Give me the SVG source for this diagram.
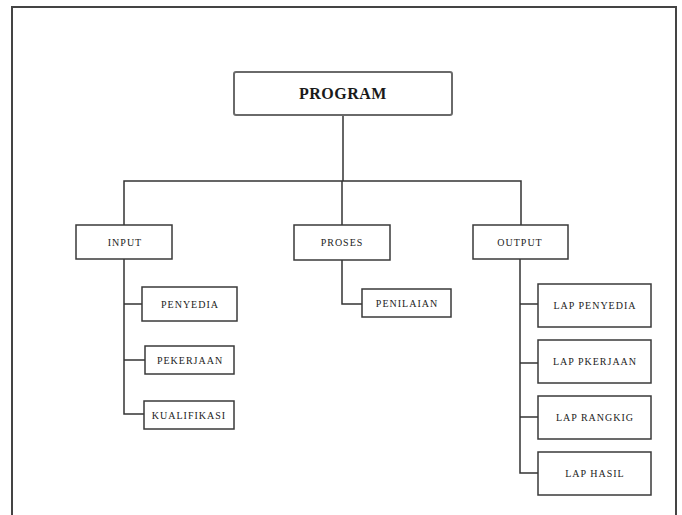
<svg xmlns="http://www.w3.org/2000/svg" width="682" height="515" viewBox="0 0 682 515">
  <style>
    .box { fill: #ffffff; stroke: #3a3a3a; stroke-width: 1.5; }
    .root { fill: #ffffff; stroke: #6a6a6a; stroke-width: 2; }
    .lbl { font-family: "Liberation Serif", "Times New Roman", serif; font-size: 10px; fill: #222; text-anchor: middle; letter-spacing: 1px; }
    .title { font-family: "Liberation Serif", "Times New Roman", serif; font-size: 16px; font-weight: bold; fill: #1a1a1a; text-anchor: middle; letter-spacing: 0.5px; }
    .wire { fill: none; stroke: #333; stroke-width: 1.5; }
  </style>

  <rect width="682" height="515" fill="#ffffff"/>
  <!-- page frame, open at the bottom -->
  <path d="M12 520 V7 H676 V520" fill="none" stroke="#444" stroke-width="2"/>

  <g id="connectors">
    <path class="wire" d="M343 115 V181"/>
    <path class="wire" d="M124 225 V181 H521 V225"/>
    <path class="wire" d="M342 181 V225"/>
    <!-- INPUT branches -->
    <path class="wire" d="M124 259 V414 H144"/>
    <path class="wire" d="M124 304 H142"/>
    <path class="wire" d="M124 360 H145"/>
    <!-- PROSES branch -->
    <path class="wire" d="M342 260 V304 H362"/>
    <!-- OUTPUT branches -->
    <path class="wire" d="M520 259 V473 H538"/>
    <path class="wire" d="M520 304 H538"/>
    <path class="wire" d="M520 363 H538"/>
    <path class="wire" d="M520 417 H538"/>
  </g>

  <g id="program">
    <rect class="root" x="234" y="72" width="218" height="43" rx="2"/>
    <text class="title" x="343" y="99">PROGRAM</text>
  </g>

  <g id="input">
    <rect class="box" x="76" y="225" width="96" height="34"/>
    <text class="lbl" x="125" y="246">INPUT</text>
  </g>
  <g id="penyedia">
    <rect class="box" x="142" y="287" width="95" height="34"/>
    <text class="lbl" x="190" y="308">PENYEDIA</text>
  </g>
  <g id="pekerjaan">
    <rect class="box" x="145" y="346" width="89" height="28"/>
    <text class="lbl" x="190" y="364">PEKERJAAN</text>
  </g>
  <g id="kualifikasi">
    <rect class="box" x="144" y="401" width="90" height="28"/>
    <text class="lbl" x="189" y="419">KUALIFIKASI</text>
  </g>

  <g id="proses">
    <rect class="box" x="294" y="225" width="96" height="35"/>
    <text class="lbl" x="342" y="246">PROSES</text>
  </g>
  <g id="penilaian">
    <rect class="box" x="362" y="289" width="89" height="28"/>
    <text class="lbl" x="407" y="307">PENILAIAN</text>
  </g>

  <g id="output">
    <rect class="box" x="473" y="225" width="95" height="34"/>
    <text class="lbl" x="520" y="246">OUTPUT</text>
  </g>
  <g id="lap-penyedia">
    <rect class="box" x="538" y="284" width="113" height="43"/>
    <text class="lbl" x="595" y="309">LAP PENYEDIA</text>
  </g>
  <g id="lap-pkerjaan">
    <rect class="box" x="538" y="340" width="113" height="43"/>
    <text class="lbl" x="595" y="365">LAP PKERJAAN</text>
  </g>
  <g id="lap-rangkig">
    <rect class="box" x="538" y="396" width="113" height="43"/>
    <text class="lbl" x="595" y="421">LAP RANGKIG</text>
  </g>
  <g id="lap-hasil">
    <rect class="box" x="538" y="452" width="113" height="43"/>
    <text class="lbl" x="595" y="477">LAP HASIL</text>
  </g>
</svg>
